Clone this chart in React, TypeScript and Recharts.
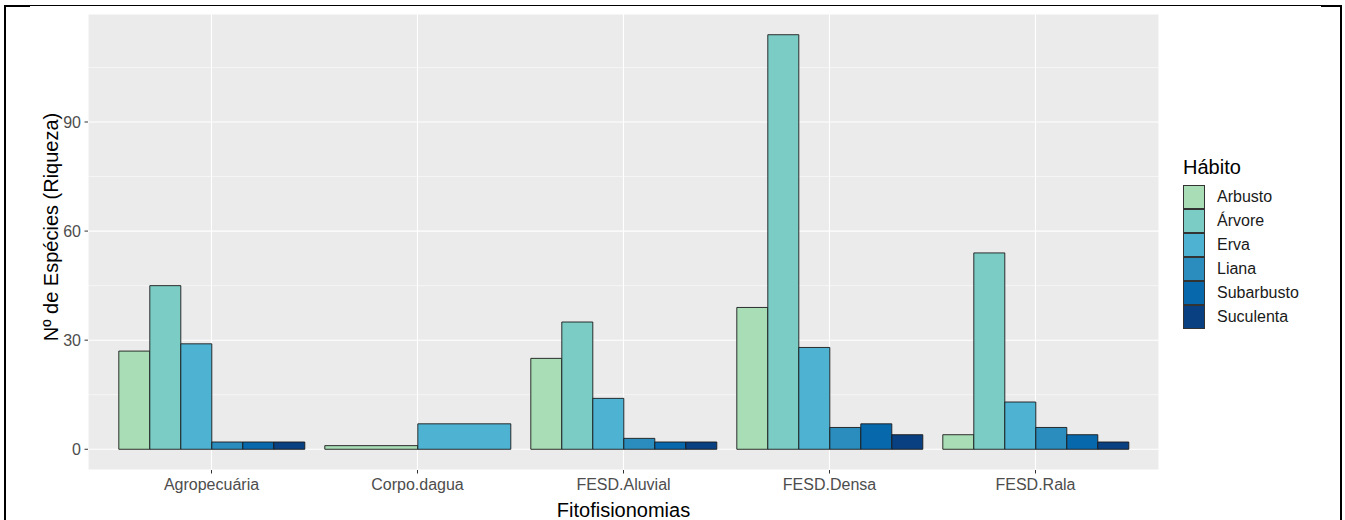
import { BarChart, Bar, XAxis, YAxis, CartesianGrid, Legend, Rectangle } from "recharts";

const categories = ["Agropecuária", "Corpo.dagua", "FESD.Aluvial", "FESD.Densa", "FESD.Rala"];
const habits = ["Arbusto", "Árvore", "Erva", "Liana", "Subarbusto", "Suculenta"];
const colors = ["#A8DDB5", "#7BCCC4", "#4EB3D3", "#2B8CBE", "#0868AC", "#084081"];

const arbusto = [27, 1, 25, 39, 4];
const arvore = [45, null, 35, 114, 54];
const erva = [29, 7, 14, 28, 13];
const liana = [2, null, 3, 6, 6];
const subarbusto = [2, null, 2, 7, 4];
const suculenta = [2, null, 2, 4, 2];

const majorTicks = [0, 30, 60, 90];
const minorTicks = [15, 45, 75, 105];

const series = [arbusto, arvore, erva, liana, subarbusto, suculenta];

const data = categories.map((name, i) => {
  const row: Record<string, any> = { name };
  habits.forEach((h, j) => {
    row[h] = series[j][i];
  });
  return row;
});

const font = "'Liberation Sans', Arial, sans-serif";

// ggplot's dodge: when some habits are missing, the present ones share the whole group width
const dodgeShape = (slot: number) => (props: any) => {
  const { x, y, width, height, payload, fill } = props;
  const present = habits.filter((h) => payload[h] != null);
  const groupStart = x - slot * width;
  const w = (habits.length * width) / present.length;
  const idx = present.indexOf(habits[slot]);
  return (
    <Rectangle
      x={groupStart + idx * w}
      y={y}
      width={w}
      height={height}
      fill={fill}
      stroke="#1a1a1a"
      strokeWidth={0.9}
    />
  );
};

const renderLegend = () => (
  <div style={{ fontFamily: font, width: 150 }}>
    <div style={{ fontSize: 20, color: "#000", height: 25, lineHeight: "15px" }}>Hábito</div>
    {habits.map((h, i) => (
      <div key={h} style={{ display: "flex", alignItems: "center", height: 24 }}>
        <div
          style={{
            width: 22,
            height: 24,
            boxSizing: "border-box",
            background: colors[i],
            border: "1px solid #333",
          }}
        />
        <span style={{ marginLeft: 12, fontSize: 16, color: "#1a1a1a" }}>{h}</span>
      </div>
    ))}
  </div>
);

const YTitle = () => (
  <text
    x={51}
    y={227}
    transform="rotate(-90 51 227)"
    textAnchor="middle"
    dominantBaseline="central"
    fontSize={20}
    fontFamily={font}
    fill="#000"
  >
    Nº de Espécies (Riqueza)
  </text>
);

export default function App() {
  return (
    <div style={{ position: "absolute", left: 0, top: 0, width: 1345, height: 520, overflow: "hidden", background: "#fff" }}>
      <div
        style={{
          position: "absolute",
          left: 240,
          top: -17.5,
          fontFamily: font,
          fontWeight: "bold",
          fontSize: 17,
          lineHeight: "17px",
          whiteSpace: "nowrap",
        }}
      >
        Figura 9 – Riqueza de espécies segundo o hábito por tipo de fitofisionomia agrupada
      </div>
      <div style={{ position: "absolute", left: 4, top: 5, width: 1334, height: 530, borderTop: "1px solid #000", borderLeft: "2px solid #000", borderRight: "2px solid #000" }} />
      <div style={{ position: "absolute", left: 4, top: 5, width: 26, height: 2, background: "#000" }} />
      <div style={{ position: "absolute", left: 1321, top: 5, width: 19, height: 2, background: "#000" }} />
      <BarChart
        width={1345}
        height={520}
        data={data}
        margin={{ top: 14, right: 186, bottom: 0, left: 0 }}
        barGap={0}
        barCategoryGap="5%"
        style={{ position: "absolute", left: 0, top: 0 }}
      >
        <CartesianGrid fill="#EBEBEB" stroke="#fff" strokeWidth={0.55} vertical={false} horizontalValues={minorTicks} />
        <CartesianGrid stroke="#fff" strokeWidth={1.1} />
        <XAxis
          dataKey="name"
          height={50}
          padding={{ left: 20.5, right: 20.5 }}
          axisLine={false}
          tickSize={3.5}
          tickMargin={5}
          tickLine={{ stroke: "#333" }}
          tick={{ fill: "#4D4D4D", fontSize: 16, fontFamily: font }}
          label={{ value: "Fitofisionomias", position: "insideBottom", offset: 3, fontSize: 20, fontFamily: font, fill: "#000" }}
        />
        <YAxis
          width={88}
          domain={[-5.7, 119.7]}
          ticks={majorTicks}
          allowDataOverflow
          axisLine={false}
          tickSize={3.5}
          tickMargin={3.5}
          tickLine={{ stroke: "#333" }}
          tick={{ fill: "#4D4D4D", fontSize: 16, fontFamily: font }}
          label={{ content: () => <YTitle /> }}
        />
        <Legend
          layout="vertical"
          align="center"
          verticalAlign="middle"
          content={renderLegend}
          wrapperStyle={{ left: 1183, top: 160, width: 150 }}
        />
        {habits.map((h, i) => (
          <Bar key={h} dataKey={h} fill={colors[i]} isAnimationActive={false} shape={dodgeShape(i)} />
        ))}
      </BarChart>
    </div>
  );
}
